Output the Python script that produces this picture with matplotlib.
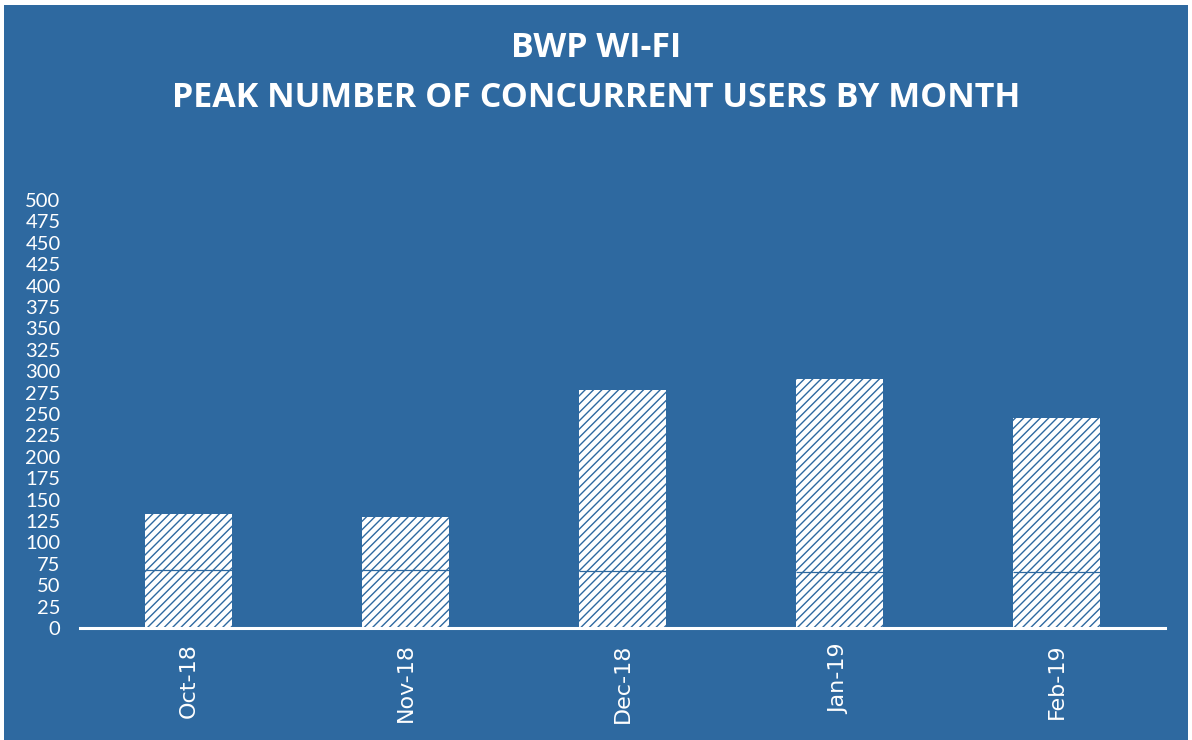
import matplotlib
matplotlib.use("Agg")
import matplotlib.pyplot as plt
from matplotlib.patches import Rectangle

months = ["Oct-18", "Nov-18", "Dec-18", "Jan-19", "Feb-19"]
peak_users = [133, 130, 278, 291, 245]
lower_segment = [68, 68, 67, 66, 66]
yticks = list(range(0, 501, 25))

BG = "#2E69A0"

plt.rcParams["hatch.linewidth"] = 1.0

fig = plt.figure(figsize=(11.92, 7.4), dpi=100)
fig.patch.set_facecolor("white")
fig.patches.append(Rectangle((0.003, 0.0), 0.994, 0.993, transform=fig.transFigure,
                             facecolor=BG, edgecolor="none", zorder=-10))

ax = fig.add_axes([80 / 1192, 1 - 628 / 740, (1165 - 80) / 1192, (628 - 200) / 740])
ax.set_facecolor("none")

x = list(range(len(months)))
upper = [t - b for t, b in zip(peak_users, lower_segment)]
ax.bar(x, lower_segment, width=0.4, color="white", edgecolor=BG, linewidth=0, hatch="////", zorder=2)
ax.bar(x, upper, bottom=lower_segment, width=0.4, color="white", edgecolor=BG, linewidth=0,
       hatch="////", zorder=2)
ax.hlines(lower_segment, [i - 0.2 for i in x], [i + 0.2 for i in x], color=BG, lw=0.9, zorder=3)

ax.set_xlim(-0.5, len(months) - 0.5)
ax.set_ylim(0, 500)
ax.set_yticks(yticks)
ax.set_yticklabels([str(v) for v in yticks], fontfamily="Lato", fontsize=14.5, color="white")
ax.set_xticks(x)
ax.set_xticklabels(months, rotation=90, color="white", va="top")
for lbl in ax.get_xticklabels():
    lbl.set_fontfamily("DejaVu Sans")
    lbl.set_fontsize(16)
ax.tick_params(axis="both", length=0)
ax.tick_params(axis="x", pad=11)
ax.tick_params(axis="y", pad=14)

for s in ["top", "right", "left"]:
    ax.spines[s].set_visible(False)
ax.spines["bottom"].set_color("white")
ax.spines["bottom"].set_linewidth(2.2)
ax.spines["bottom"].set_zorder(4)

title_font = ["Open Sans"]
fig.text(0.5, 1 - 48 / 740, "BWP WI-FI", ha="center", va="center", color="white",
         fontsize=24.5, fontweight="bold", fontfamily=title_font)
fig.text(0.5, 1 - 98 / 740, "PEAK NUMBER OF CONCURRENT USERS BY MONTH", ha="center", va="center",
         color="white", fontsize=24.5, fontweight="bold", fontfamily=title_font)

fig.savefig("out.png", dpi=100, facecolor=fig.get_facecolor())
